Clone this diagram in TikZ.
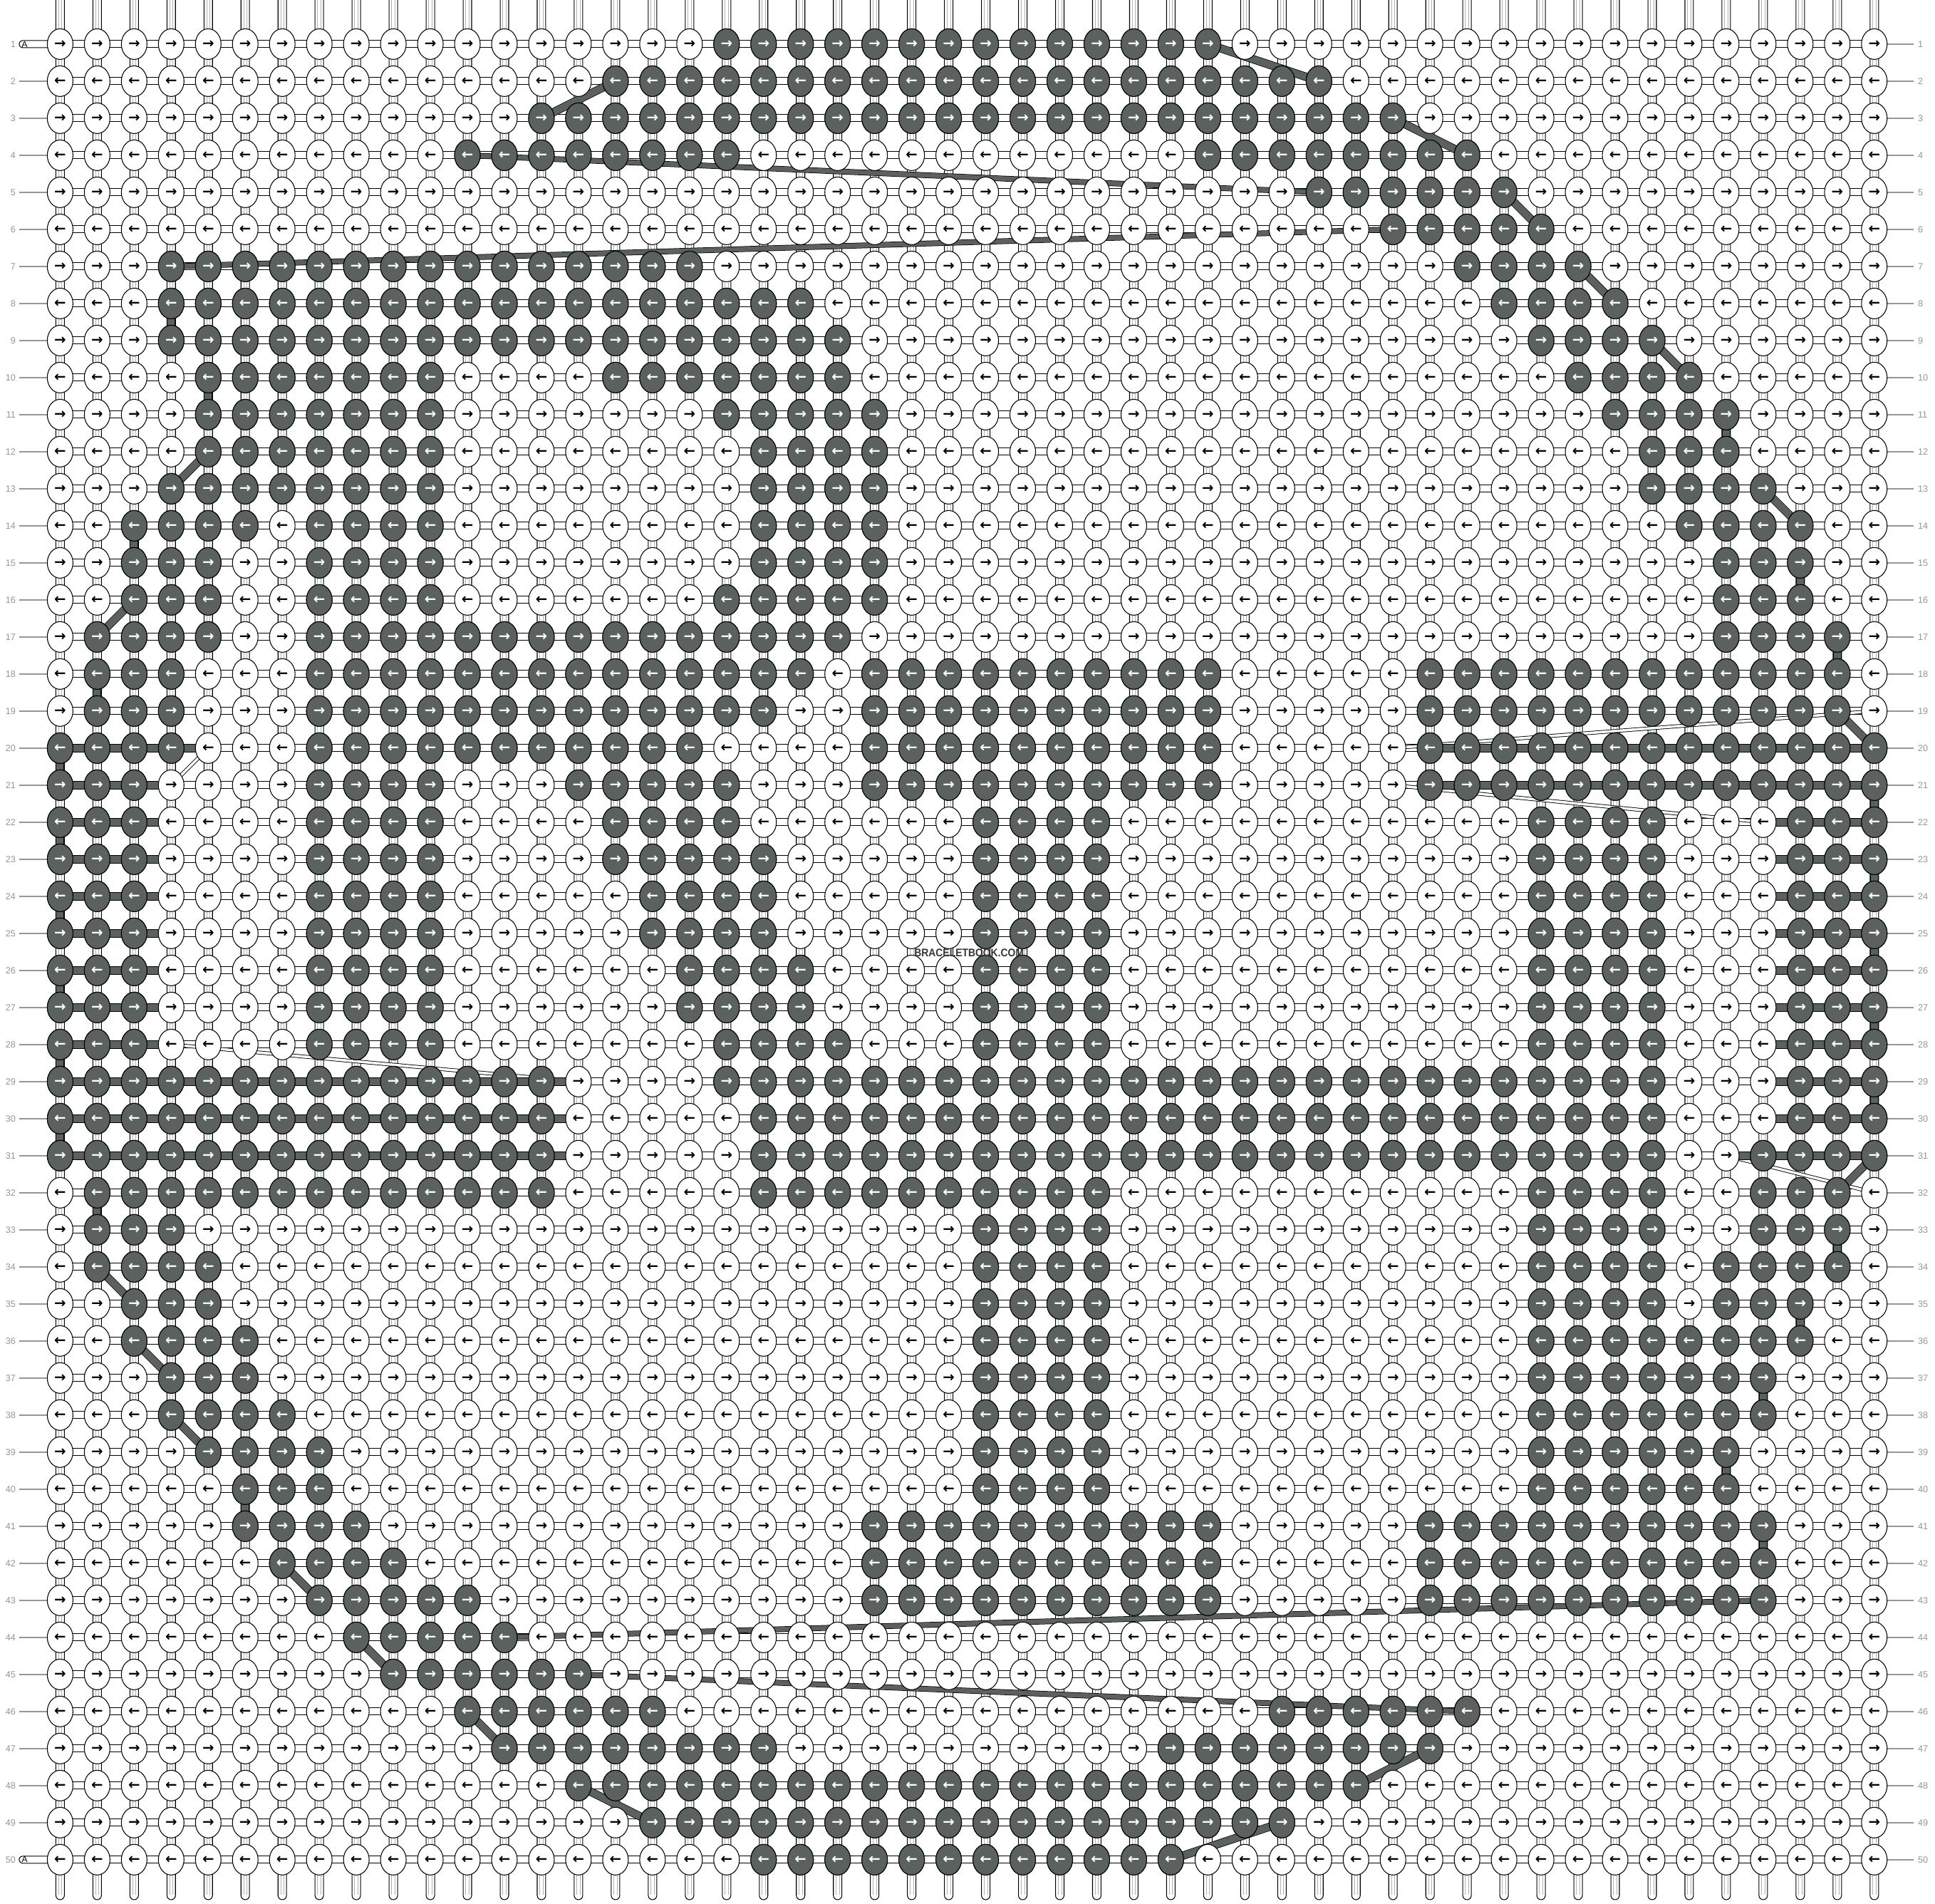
\documentclass[tikz,border=0pt]{standalone}
\usepackage{fontspec}
\setmainfont{Liberation Sans}
\newfontfamily\arrowfont{DejaVu Sans}
\definecolor{knotgrey}{RGB}{91,97,95}
\definecolor{labelgrey}{RGB}{150,150,150}
\definecolor{markgrey}{RGB}{55,55,55}

\begin{document}
\begin{tikzpicture}[x=0.5197cm, y=-0.52cm,
    every node/.style={inner sep=0pt, outer sep=0pt},
    knot/.style={draw=black, line width=0.3pt, fill=white},
    darkknot/.style={knot, fill=knotgrey},
    knotsize/.style={x radius=0.18cm, y radius=0.215cm},
    arrowrow/.style={anchor=west, font=\arrowfont\bfseries\fontsize{5.6}{6}\selectfont},
    rod/.style={draw=black, line width=0.3pt, fill=white, rounded corners=0.06cm},
    rowtube/.style={draw=black, line width=0.3pt, fill=white},
    darkstring/.style={draw=knotgrey, line width=0.1cm,
        preaction={draw=black, line width=0.115cm}},
    longstring/.style={draw=knotgrey, line width=0.065cm,
        preaction={draw=black, line width=0.08cm}},
    lightstring/.style={draw=black, line width=0.25pt, double=white, double distance=0.035cm},
    rowlabel/.style={text=labelgrey, font=\fontsize{3.6}{4}\selectfont},
    labelline/.style={draw=labelgrey, line width=0.4pt}]

    \def\darkruns{1/19/32, 2/16/35, 3/14/37, 4/12/19, 4/32/39, 5/35/40, 6/37/41,
        7/4/18, 7/39/42, 8/4/21, 8/40/43, 9/4/22, 9/41/44, 10/5/11, 10/16/22, 10/42/45,
        11/5/11, 11/19/23, 11/43/46, 12/5/11, 12/20/23, 12/44/46, 13/4/11, 13/20/23, 13/44/47,
        14/3/6, 14/8/11, 14/20/23, 14/45/48, 15/3/5, 15/8/11, 15/20/23, 15/46/48,
        16/3/5, 16/8/11, 16/19/23, 16/46/48, 17/2/5, 17/8/22, 17/46/49,
        18/2/4, 18/8/21, 18/23/32, 18/38/49, 19/2/4, 19/8/20, 19/23/32, 19/38/49,
        20/1/4, 20/8/18, 20/23/32, 20/38/50, 21/1/3, 21/8/11, 21/15/19, 21/23/32, 21/38/50,
        22/1/3, 22/8/11, 22/16/19, 22/26/29, 22/41/44, 22/48/50,
        23/1/3, 23/8/11, 23/16/20, 23/26/29, 23/41/44, 23/48/50,
        24/1/3, 24/8/11, 24/17/20, 24/26/29, 24/41/44, 24/48/50,
        25/1/3, 25/8/11, 25/17/20, 25/26/29, 25/41/44, 25/48/50,
        26/1/3, 26/8/11, 26/18/21, 26/26/29, 26/41/44, 26/48/50,
        27/1/3, 27/8/11, 27/18/21, 27/26/29, 27/41/44, 27/48/50,
        28/1/3, 28/8/11, 28/19/22, 28/26/29, 28/41/44, 28/48/50,
        29/1/14, 29/19/44, 29/48/50, 30/1/14, 30/20/44, 30/48/50, 31/1/14, 31/20/44, 31/47/50,
        32/2/14, 32/20/29, 32/41/44, 32/47/49, 33/2/4, 33/26/29, 33/41/44, 33/47/49,
        34/2/5, 34/26/29, 34/41/44, 34/46/49, 35/3/5, 35/26/29, 35/41/44, 35/46/48,
        36/3/6, 36/26/29, 36/41/48, 37/4/6, 37/26/29, 37/41/47, 38/4/7, 38/26/29, 38/41/47,
        39/5/8, 39/26/29, 39/41/46, 40/6/8, 40/26/29, 40/41/46,
        41/6/9, 41/23/32, 41/38/47, 42/7/10, 42/23/32, 42/38/47, 43/8/12, 43/23/32, 43/38/47,
        44/9/13, 45/10/15, 46/12/17, 46/34/39, 47/13/20, 47/31/38, 48/15/36, 49/17/34, 50/20/31}

    \useasboundingbox[fill=white] (-0.624,-0.19) rectangle (51.64,51.19);

    \foreach \r in {1,...,50} {%
        \foreach \c in {1,...,50} {%
            \coordinate (p-\r-\c) at (\c,\r);%
        }
    }

    \foreach \c in {1,...,50} {%
        \draw[rod] (\c-0.115,-0.6) rectangle (\c+0.115,51.08);
        \draw[black!30, line width=0.2pt] (\c-0.045,-0.6) -- (\c-0.045,50.95)
            (\c+0.045,-0.6) -- (\c+0.045,50.95);
    }

    \foreach \r in {1,...,50} {%
        \draw[rowtube] (1,\r-0.096) rectangle (50,\r+0.096);
        \node[rowlabel, anchor=east] (l-\r) at (-0.2,\r) {\r};
        \node[rowlabel, anchor=west] (r-\r) at (51.18,\r) {\r};
        \draw[labelline] (p-\r-50) -- (51.06,\r);
    }
    \foreach \r in {2,...,49} \draw[labelline] (-0.105,\r) -- (p-\r-1);
    \foreach \r in {1,50} {%
        \draw[rowtube, rounded corners=0.045cm] (-0.105,\r-0.096) rectangle (1,\r+0.096);
        \node[font=\fontsize{3.4}{4}\selectfont] (a-\r) at (0.04,\r) {A};
    }

    \foreach \ra/\ca/\rb/\cb in {20/5/21/4, 20/37/19/50, 21/37/22/47, 28/4/29/15, 31/46/32/50}
        \draw[lightstring] (p-\ra-\ca) -- (p-\rb-\cb);

    \foreach \r/\a/\b in {20/1/5, 21/1/4, 22/1/4, 23/1/4, 24/1/4, 25/1/4, 26/1/4, 27/1/4, 28/1/4,
        29/1/15, 30/1/15, 31/1/15, 20/38/50, 21/38/50, 22/47/50, 23/47/50, 24/47/50, 25/47/50,
        26/47/50, 27/47/50, 28/47/50, 29/47/50, 30/47/50, 31/46/50}
        \draw[darkstring] (p-\r-\a) -- (p-\r-\b);

    \foreach \c/\ra/\rb in {4/8/9, 5/10/11, 3/14/15, 2/18/19, 1/20/21, 1/22/23, 1/24/25,
        1/26/27, 1/28/29, 1/30/31, 2/32/33, 6/40/41, 46/11/12, 48/15/16, 49/17/18,
        50/21/22, 50/23/24, 50/25/26, 50/27/28, 50/29/30, 49/33/34, 48/35/36, 47/37/38,
        46/39/40, 47/41/42}
        \draw[darkstring] (p-\ra-\c) -- (p-\rb-\c);

    \foreach \ra/\ca/\rb/\cb in {1/32/2/35, 3/14/2/16, 3/37/4/39, 5/40/6/41, 7/42/8/43,
        9/44/10/45, 13/4/12/5, 13/47/14/48, 17/2/16/3, 19/49/20/50, 31/50/32/49, 34/2/35/3,
        36/3/37/4, 38/4/39/5, 42/7/43/8, 44/9/45/10, 46/12/47/13, 48/15/49/17, 47/38/48/36,
        49/34/50/31}
        \draw[darkstring] (p-\ra-\ca) -- (p-\rb-\cb);

    \foreach \ra/\ca/\rb/\cb in {4/12/5/35, 6/37/7/4, 43/47/44/13, 45/15/46/39}
        \draw[longstring] (p-\ra-\ca) -- (p-\rb-\cb);

    \foreach \r in {1,...,50} {%
        \filldraw[knot] \foreach \c in {1,...,50} {(p-\r-\c) ellipse [knotsize]};
        \node[arrowrow] (w-\r) at (0.5,\r) {\foreach \c in {1,...,50}{\makebox[0.5197cm]{\ifodd\r\relax→\else←\fi}}};
    }
    \foreach \r/\a/\b in \darkruns {%
        \filldraw[darkknot] \foreach \c in {\a,...,\b} {(p-\r-\c) ellipse [knotsize]};
        \node[arrowrow, text=white] (d-\r-\a) at (\a-0.5,\r) {\foreach \c in {\a,...,\b}{\makebox[0.5197cm]{\ifodd\r\relax→\else←\fi}}};
    }

    \node[font=\bfseries\fontsize{4.4}{5}\selectfont, text=markgrey, xscale=0.9] (mark) at (25.55,25.52) {BRACELETBOOK.COM};

\end{tikzpicture}
\end{document}
